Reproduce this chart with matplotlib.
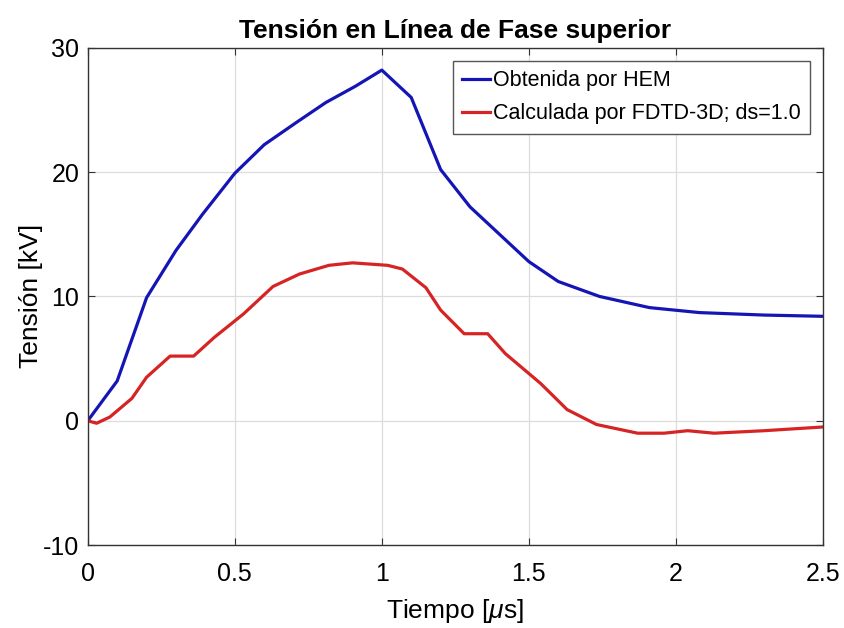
import matplotlib
matplotlib.use("Agg")
import matplotlib.pyplot as plt

# Tensión obtenida por HEM
t_hem = [0.0, 0.10, 0.20, 0.30, 0.39, 0.50, 0.60, 0.71, 0.81, 0.91, 1.00,
         1.10, 1.20, 1.30, 1.40, 1.50, 1.60, 1.74, 1.91, 2.08, 2.30, 2.50]
v_hem = [0.0, 3.2, 9.9, 13.7, 16.6, 19.9, 22.2, 24.0, 25.6, 26.9, 28.2,
         26.0, 20.2, 17.2, 15.0, 12.8, 11.2, 10.0, 9.1, 8.7, 8.5, 8.4]

# Tensión calculada por FDTD-3D
t_fdtd = [0.0, 0.03, 0.075, 0.15, 0.20, 0.28, 0.36, 0.43, 0.53, 0.63, 0.72,
          0.82, 0.90, 1.02, 1.07, 1.15, 1.20, 1.28, 1.36, 1.42, 1.54, 1.63,
          1.73, 1.87, 1.96, 2.04, 2.13, 2.30, 2.50]
v_fdtd = [0.0, -0.2, 0.3, 1.8, 3.5, 5.2, 5.2, 6.7, 8.6, 10.8, 11.8,
          12.5, 12.7, 12.5, 12.2, 10.7, 8.9, 7.0, 7.0, 5.4, 3.0, 0.9,
          -0.3, -1.0, -1.0, -0.8, -1.0, -0.8, -0.5]

x_ticks = [0, 0.5, 1, 1.5, 2, 2.5]
x_labels = ["0", "0.5", "1", "1.5", "2", "2.5"]
y_ticks = [-10, 0, 10, 20, 30]
y_labels = ["-10", "0", "10", "20", "30"]

plt.rcParams['font.family'] = ['Liberation Sans', 'DejaVu Sans']
plt.rcParams['mathtext.fontset'] = 'custom'
plt.rcParams['mathtext.it'] = 'Liberation Sans:italic'
plt.rcParams['mathtext.rm'] = 'Liberation Sans'

fig = plt.figure(figsize=(8.44, 6.28), dpi=100)
ax = fig.add_axes([0.104, 0.132, 0.871, 0.792])

ax.plot(t_hem, v_hem, color='#1515b5', lw=2.3, label='Obtenida por HEM')
ax.plot(t_fdtd, v_fdtd, color='#d62424', lw=2.3, label='Calculada por FDTD-3D; ds=1.0')

ax.set_xlim(0, 2.5)
ax.set_ylim(-10, 30)
ax.set_xticks(x_ticks)
ax.set_xticklabels(x_labels)
ax.set_yticks(y_ticks)
ax.set_yticklabels(y_labels)
ax.grid(True, color='#dcdcdc', lw=0.9)
ax.tick_params(direction='in', top=True, right=True, labelsize=18, length=5,
               color='#333333')
ax.tick_params(axis='x', pad=12)
ax.tick_params(axis='y', pad=6)
for sp in ax.spines.values():
    sp.set_color('#333333')
    sp.set_linewidth(1.0)

ax.set_xlabel(r'Tiempo [$\mu$s]', fontsize=19, labelpad=8)
ax.set_ylabel('Tensión [kV]', fontsize=19, labelpad=0)
ax.set_title('Tensión en Línea de Fase superior', fontsize=19, fontweight='bold', pad=7)

leg = ax.legend(loc='upper right', fontsize=15.5, fancybox=False, framealpha=1,
                edgecolor='#555555', handlelength=1.3, handletextpad=0.1,
                borderpad=0.45, labelspacing=0.55, borderaxespad=0.6)
leg.get_frame().set_linewidth(1.0)

fig.savefig('out.png', dpi=100)
